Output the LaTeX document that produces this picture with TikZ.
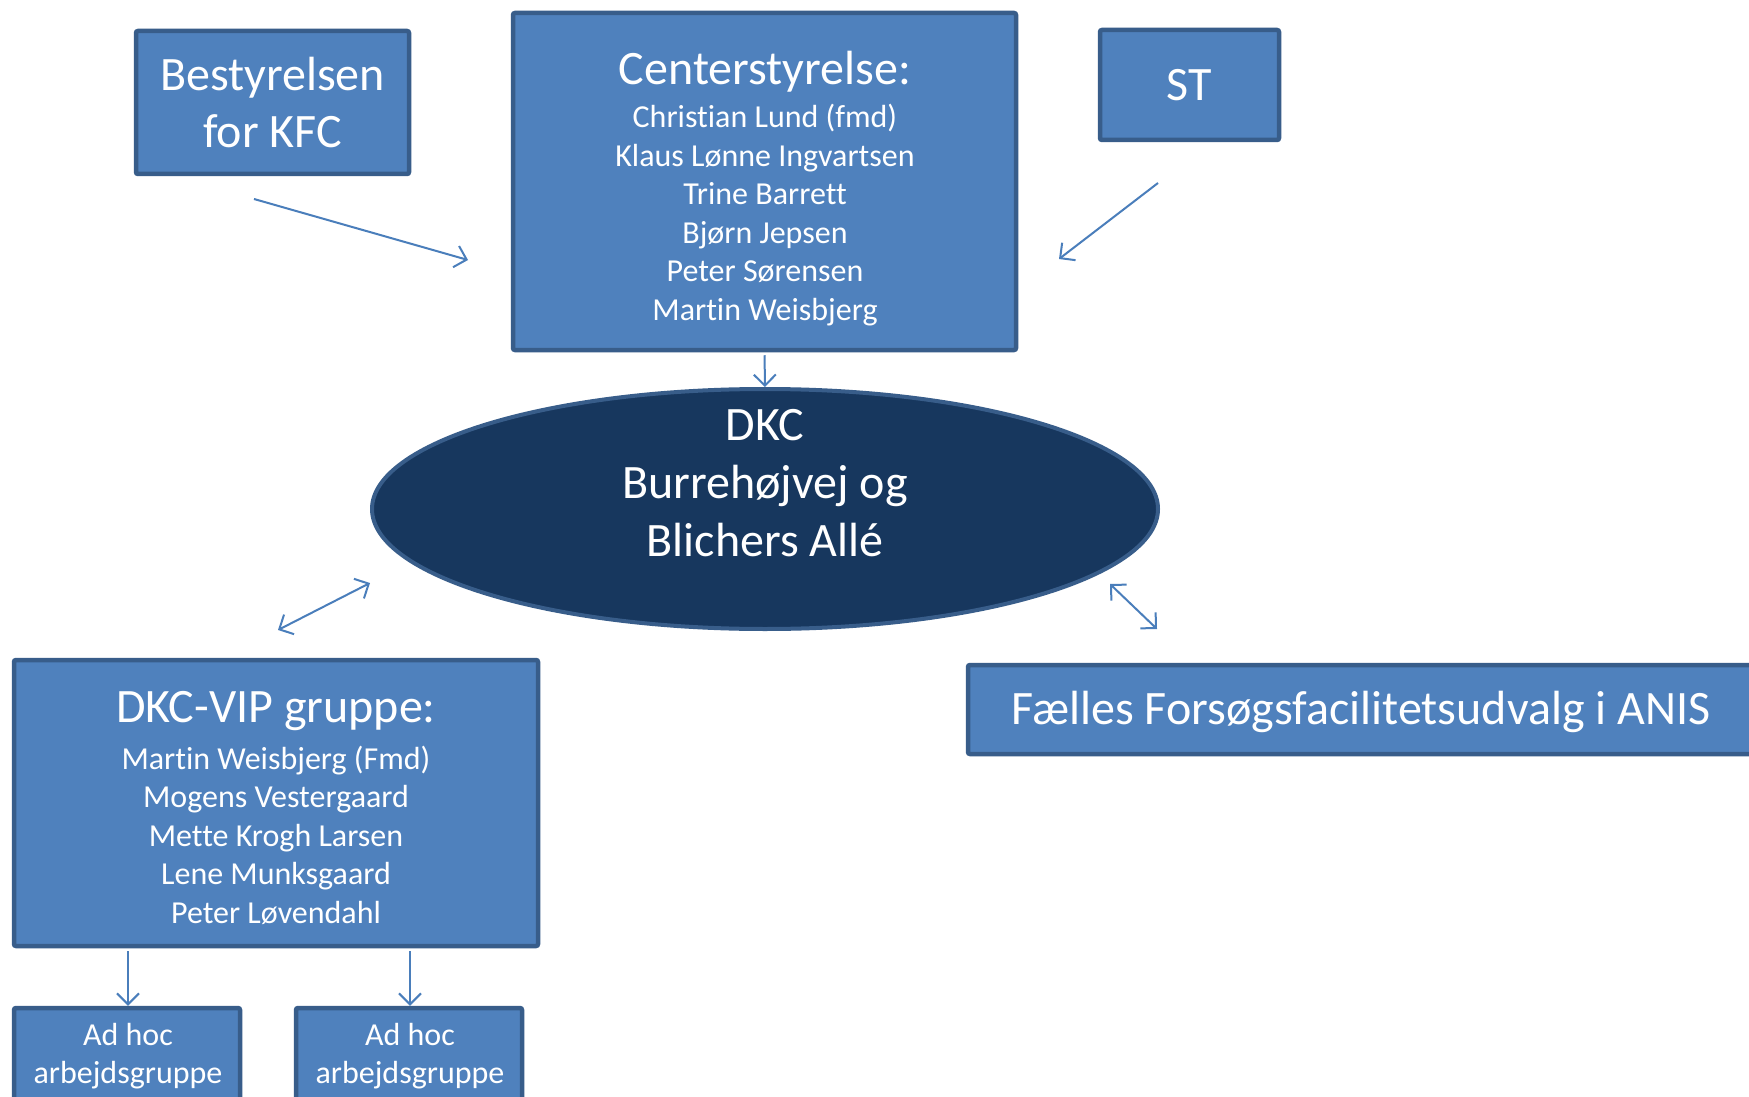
\documentclass[tikz,border=0pt]{standalone}
\usepackage{fontspec}
\setmainfont[Ligatures={NoCommon}]{Carlito}
\usetikzlibrary{arrows.meta,shapes.geometric}
\definecolor{boxfill}{HTML}{4F81BD}
\definecolor{boxline}{HTML}{385D8A}
\definecolor{navy}{HTML}{17375E}
\definecolor{arrowc}{HTML}{4A7EBB}
\begin{document}
\begin{tikzpicture}[x=1pt,y=-1pt,
  box/.style={draw=boxline, fill=boxfill, line width=4.5pt, rounded corners=2pt, rectangle, inner sep=0pt, text=white, align=center},
  big/.style={text=white, font=\fontsize{48}{58}\selectfont, align=center, inner sep=0pt},
  small/.style={text=white, font=\fontsize{32}{38.5}\selectfont, align=center, inner sep=0pt},
  tipb/.tip={Straight Barb[length=11pt,width=22pt,line width=2pt]},
  conn/.style={draw=arrowc, line width=2pt, -tipb},
  dconn/.style={draw=arrowc, line width=2pt, tipb-tipb}]
\useasboundingbox (0,0) rectangle (1749,1097);
\fill[white] (0,0) rectangle (1749,1097);

% boxes
\node[box, minimum width=273pt, minimum height=143pt, font=\fontsize{48}{58}\selectfont] (best) at (272.5,102.5) {Bestyrelsen\\for KFC};
\node[box, minimum width=503pt, minimum height=337pt] (cs) at (764.5,181.5) {};
\node[big] (cshead) at (765,72) {Centerstyrelse:};
\node[small] (csnames) at (765,215) {Christian Lund (fmd)\\Klaus Lønne Ingvartsen\\Trine Barrett\\Bjørn Jepsen\\Peter Sørensen\\Martin Weisbjerg};
\node[box, minimum width=179pt, minimum height=110pt, font=\fontsize{48}{58}\selectfont] (st) at (1189.5,85) {ST};

\node[ellipse, draw=boxline, fill=navy, line width=4pt, minimum width=786pt, minimum height=240pt, inner sep=0pt] (dkc) at (765,509) {};
\node[big] (dkctext) at (765,483) {DKC\\Burrehøjvej og\\Blichers Allé};

\node[box, minimum width=524pt, minimum height=286pt] (vip) at (276,803) {};
\node[big] (viphead) at (276,711) {DKC-VIP gruppe:};
\node[small] (vipnames) at (276,835) {Martin Weisbjerg (Fmd)\\Mogens Vestergaard\\Mette Krogh Larsen\\Lene Munksgaard\\Peter Løvendahl};

\node[box, minimum width=790pt, minimum height=89pt] (faelles) at (1363,709.5) {};
\node[big, anchor=center] (faellestext) at (1361,712) {Fælles Forsøgsfacilitetsudvalg i ANIS};

\node[box, minimum width=226pt, minimum height=100pt] (ah1) at (127,1058) {};
\node[small] (ah1text) at (128,1056) {Ad hoc\\arbejdsgruppe};
\node[box, minimum width=226pt, minimum height=100pt] (ah2) at (409,1058) {};
\node[small] (ah2text) at (410,1056) {Ad hoc\\arbejdsgruppe};

% connector ends
\coordinate (b1) at (254,199);
\coordinate (b2) at (468,260);
\coordinate (s1) at (1158,183);
\coordinate (s2) at (1059,259);
\coordinate (v1) at (278,630);
\coordinate (v2) at (370,583);
\coordinate (f1) at (1110,584);
\coordinate (f2) at (1157,629);

\draw[conn] (b1) -- (b2);
\draw[conn] (s1) -- (s2);
\draw[conn, shorten <=3pt] (cs.south) -- (dkc.north);
\draw[dconn] (v1) -- (v2);
\draw[dconn] (f1) -- (f2);
\draw[conn, shorten <=3pt] (vip.south -| ah1text) -- (ah1.north -| ah1text);
\draw[conn, shorten <=3pt] (vip.south -| ah2text) -- (ah2.north -| ah2text);
\end{tikzpicture}
\end{document}
